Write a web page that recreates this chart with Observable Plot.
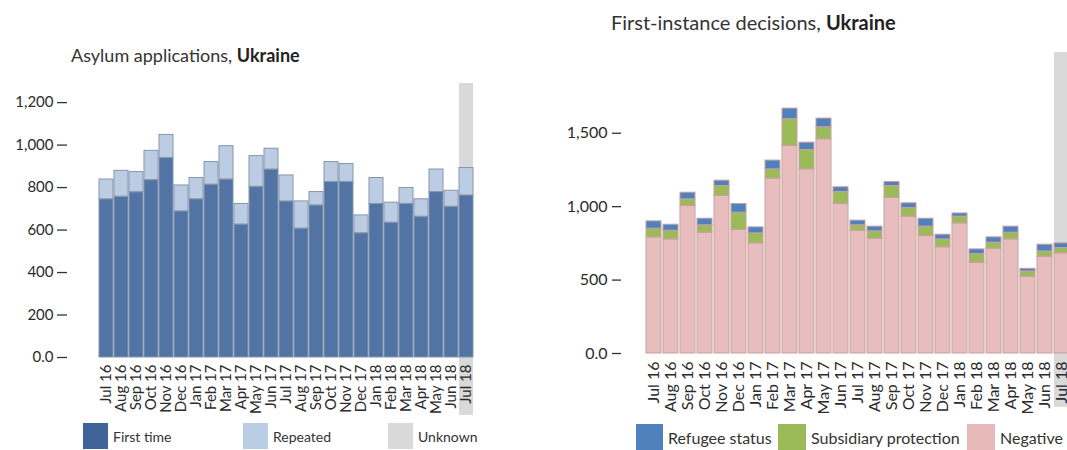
<!DOCTYPE html>
<html>
<head>
<meta charset="utf-8">
<script src="https://cdn.jsdelivr.net/npm/d3@7"></script>
<script src="https://cdn.jsdelivr.net/npm/@observablehq/plot@0.6"></script>
<style>
  html, body { margin: 0; padding: 0; background: #fff; }
  #wrap { position: relative; width: 1067px; height: 450px; overflow: hidden; font-family: Lato, "Open Sans", sans-serif; color: #333; }
  .title { position: absolute; line-height: 22px; white-space: nowrap; color: #333; }
  .title b { color: #222; }
  .chart { position: absolute; top: 0; }
  .chart svg { max-width: none !important; }
  .leg { position: absolute; display: flex; align-items: center; color: #333; white-space: nowrap; }
  .sw { margin-right: 5px; }
</style>
</head>
<body>
<div id="wrap">
  <div class="title" style="left:71px; top:44px; font-size:18px;">Asylum applications, <b>Ukraine</b></div>
  <div class="title" style="left:611px; top:11px; font-size:20px;">First-instance decisions, <b>Ukraine</b></div>
  <div id="left" class="chart" style="left:0px; width:500px;"></div>
  <div id="right" class="chart" style="left:540px; width:560px;"></div>
  <div class="leg" style="left:83px; top:423px; font-size:14px;"><div class="sw" style="width:25px;height:26px;background:#3f6498"></div>First time</div>
  <div class="leg" style="left:243px; top:423px; font-size:14px;"><div class="sw" style="width:25px;height:26px;background:#b9cde5"></div>Repeated</div>
  <div class="leg" style="left:388px; top:423px; font-size:14px;"><div class="sw" style="width:25px;height:26px;background:#d9d9d9"></div>Unknown</div>
  <div class="leg" style="left:636px; top:424px; font-size:16px;"><div class="sw" style="width:27px;height:27px;background:#4f81bd"></div>Refugee status</div>
  <div class="leg" style="left:778px; top:424px; font-size:16px;"><div class="sw" style="width:28px;height:27px;background:#9bbb59"></div>Subsidiary protection</div>
  <div class="leg" style="left:967px; top:424px; font-size:16px;"><div class="sw" style="width:28px;height:27px;background:#e6b9b8"></div>Negative</div>
</div>
<script>
const months = ["Jul 16","Aug 16","Sep 16","Oct 16","Nov 16","Dec 16","Jan 17","Feb 17","Mar 17","Apr 17","May 17","Jun 17","Jul 17","Aug 17","Sep 17","Oct 17","Nov 17","Dec 17","Jan 18","Feb 18","Mar 18","Apr 18","May 18","Jun 18","Jul 18"];
const unknownMonth = "Jul 18";

// Asylum applications
const firstTime = [745,757,778,835,939,688,745,814,838,626,804,885,735,607,716,826,826,585,723,635,723,663,779,710,763];
const repeated  = [93,122,95,138,109,122,100,106,157,97,144,98,122,128,63,94,85,84,122,94,75,82,106,75,129];

// First-instance decisions
const negative    = [791,777,1005,823,1073,841,750,1191,1414,1254,1459,1018,836,782,1059,932,800,723,886,618,714,777,523,659,682];
const subsidiary  = [59,59,45,50,68,118,68,63,181,132,82,82,37,50,82,59,64,54,46,59,41,46,36,36,36];
const refugee     = [50,41,45,45,36,59,41,60,73,50,59,32,32,32,27,32,54,32,22,32,36,41,18,46,32];

const leftTicks = [0,200,400,600,800,1000,1200];
const rightTicks = [0,500,1000,1500];

const fmt = d => d === 0 ? "0.0" : d3.format(",")(d);

const appl = [];
months.forEach((m, i) => {
  appl.push({month: m, type: "First time", value: firstTime[i]});
  appl.push({month: m, type: "Repeated", value: repeated[i]});
});
const dec = [];
months.forEach((m, i) => {
  dec.push({month: m, type: "Negative", value: negative[i]});
  dec.push({month: m, type: "Subsidiary protection", value: subsidiary[i]});
  dec.push({month: m, type: "Refugee status", value: refugee[i]});
});

const left = Plot.plot({
  width: 500, height: 420,
  marginLeft: 67, marginRight: 16, marginTop: 83, marginBottom: 63,
  style: {fontFamily: "Lato, sans-serif", color: "#2b2b2b", background: "transparent"},
  x: {domain: months, insetLeft: 20, padding: 0.1, label: null},
  y: {domain: [0, 1290], label: null},
  color: {domain: ["First time","Repeated"], range: ["#5274a5","#bccde3"]},
  marks: [
    Plot.barY([unknownMonth], {x: d => d, y1: -273, y2: 1290, fill: "#d9d9d9", inset: 0}),
    Plot.barY(appl, {x: "month", y: "value", fill: "type", stroke: "#8595ad", strokeWidth: 1}),
    Plot.axisY({ticks: leftTicks, tickFormat: fmt, tickSize: 10, tickPadding: 4, fontSize: 15, stroke: "#333", strokeWidth: 1.3}),
    Plot.axisX({tickSize: 0, tickPadding: 7, tickRotate: -90, fontSize: 15})
  ]
});
document.getElementById("left").appendChild(left);

const right = Plot.plot({
  width: 560, height: 420,
  marginLeft: 81, marginRight: 25, marginTop: 52, marginBottom: 67,
  style: {fontFamily: "Lato, sans-serif", color: "#2b2b2b", background: "transparent"},
  x: {domain: months, insetLeft: 20, padding: 0.1, label: null},
  y: {domain: [0, 2050], label: null},
  color: {domain: ["Negative","Subsidiary protection","Refugee status"], range: ["#e8bdbd","#9bbb59","#4f81bd"]},
  marks: [
    Plot.barY([unknownMonth], {x: d => d, y1: -368, y2: 2050, fill: "#d9d9d9", inset: 0}),
    Plot.barY(dec, {x: "month", y: "value", fill: "type", stroke: "#c9a0a0", strokeWidth: 1}),
    Plot.axisY({ticks: rightTicks, tickFormat: fmt, tickSize: 9, tickPadding: 5, fontSize: 16, stroke: "#333", strokeWidth: 1.3}),
    Plot.axisX({tickSize: 0, tickPadding: 8, tickRotate: -90, fontSize: 16})
  ]
});
document.getElementById("right").appendChild(right);
</script>
</body>
</html>
